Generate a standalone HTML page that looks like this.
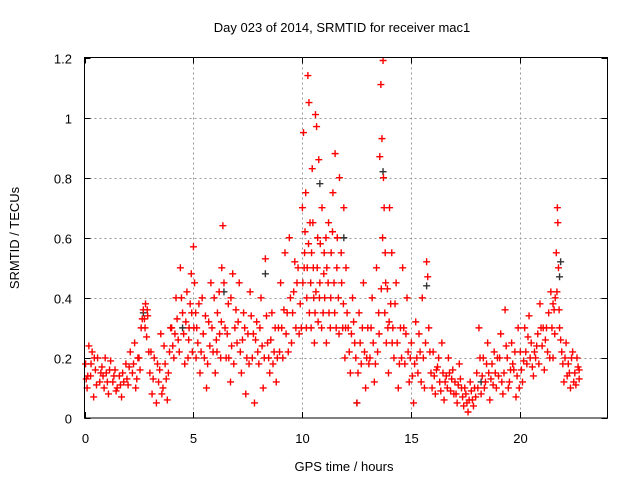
<!DOCTYPE html>
<html><head><meta charset="utf-8"><style>
body{margin:0;background:#fff;}
svg{display:block;font-family:"Liberation Sans",sans-serif;}
</style></head><body>
<svg id="chart" width="640" height="480" viewBox="0 0 640 480">
<text x="342" y="32" font-size="13" text-anchor="middle">Day 023 of 2014, SRMTID for receiver mac1</text>
<text x="344" y="471" font-size="13" text-anchor="middle">GPS time / hours</text>
<text x="0" y="0" font-size="13" text-anchor="middle" transform="translate(19,238) rotate(-90)">SRMTID / TECUs</text>
<g id="grid"></g>
<g id="ticks"></g>
<g id="points"></g>
<rect x="84.5" y="57.5" width="523" height="360.5" fill="none" stroke="#000" stroke-width="1"/>
</svg>
<script>
const xTicks=[0,5,10,15,20];
const yTicks=[0,0.2,0.4,0.6,0.8,1,1.2];
const yTickLabels=["0","0.2","0.4","0.6","0.8","1","1.2"];
const obs=[[0.05,0.18],[0.12,0.1],[0.2,0.24],[0.28,0.14],[0.35,0.22],[0.42,0.07],[0.5,0.16],[0.6,0.2],[0.7,0.12],[0.8,0.17],[0.9,0.1],
[1.0,0.15],[1.1,0.08],[1.2,0.19],[1.3,0.12],[1.4,0.16],[1.5,0.1],[1.6,0.14],[1.7,0.07],[1.8,0.12],[1.9,0.18],
[2.0,0.11],[2.1,0.22],[2.2,0.15],[2.3,0.25],[2.4,0.13],[2.5,0.2],[2.6,0.3],[2.7,0.36],[2.75,0.33],[2.8,0.38],[2.85,0.27],[2.9,0.34],[2.95,0.22],
[3.0,0.15],[3.1,0.08],[3.2,0.2],[3.3,0.05],[3.4,0.12],[3.5,0.28],[3.6,0.1],[3.7,0.18],[3.8,0.06],[3.9,0.22],
[4.0,0.3],[4.1,0.2],[4.2,0.4],[4.3,0.26],[4.4,0.5],[4.5,0.35],[4.6,0.18],[4.7,0.42],[4.8,0.3],[4.9,0.48],[4.95,0.22],
[5.0,0.57],[5.05,0.45],[5.1,0.35],[5.2,0.25],[5.3,0.15],[5.4,0.4],[5.5,0.2],[5.6,0.1],[5.7,0.32],[5.8,0.45],[5.9,0.22],
[6.0,0.15],[6.1,0.35],[6.2,0.28],[6.3,0.5],[6.35,0.64],[6.4,0.45],[6.5,0.2],[6.6,0.38],[6.7,0.12],[6.8,0.48],[6.9,0.3],
[7.0,0.25],[7.1,0.45],[7.2,0.15],[7.3,0.35],[7.4,0.08],[7.5,0.28],[7.6,0.42],[7.7,0.2],[7.8,0.05],[7.9,0.32],
[8.0,0.18],[8.1,0.4],[8.2,0.1],[8.3,0.53],[8.4,0.25],[8.5,0.15],[8.6,0.35],[8.7,0.22],[8.8,0.12],[8.9,0.3],
[9.0,0.45],[9.1,0.2],[9.2,0.55],[9.3,0.35],[9.4,0.6],[9.5,0.25],[9.6,0.42],[9.7,0.3],[9.8,0.5],[9.9,0.38],
[10.0,0.7],[10.05,0.95],[10.1,0.55],[10.15,0.75],[10.2,0.4],[10.25,1.14],[10.3,1.05],[10.35,0.65],[10.4,0.3],[10.45,0.83],[10.5,0.5],[10.55,0.25],[10.6,1.01],[10.65,0.97],[10.7,0.6],[10.75,0.86],[10.8,0.45],[10.9,0.7],[10.95,0.35],
[11.0,0.55],[11.1,0.25],[11.2,0.65],[11.3,0.4],[11.4,0.75],[11.5,0.88],[11.55,0.3],[11.6,0.6],[11.7,0.8],[11.8,0.45],[11.9,0.7],[11.95,0.2],
[12.0,0.5],[12.1,0.3],[12.2,0.15],[12.3,0.4],[12.4,0.25],[12.5,0.05],[12.6,0.35],[12.7,0.18],[12.8,0.45],[12.9,0.1],
[13.0,0.3],[13.1,0.2],[13.2,0.4],[13.3,0.12],[13.4,0.5],[13.5,0.35],[13.55,0.87],[13.6,1.11],[13.65,0.93],[13.7,1.19],[13.72,0.8],[13.75,0.7],[13.8,0.55],[13.85,0.25],[13.9,0.43],[13.95,0.15],
[14.0,0.7],[14.05,0.38],[14.1,0.55],[14.2,0.2],[14.3,0.45],[14.4,0.1],[14.5,0.3],[14.6,0.5],[14.7,0.18],[14.8,0.4],[14.9,0.12],
[15.0,0.25],[15.1,0.05],[15.2,0.32],[15.3,0.15],[15.4,0.22],[15.5,0.4],[15.6,0.1],[15.7,0.52],[15.75,0.47],[15.8,0.3],[15.9,0.15],
[16.0,0.22],[16.1,0.08],[16.2,0.17],[16.3,0.12],[16.4,0.25],[16.5,0.06],[16.6,0.14],[16.7,0.2],[16.8,0.09],[16.9,0.16],
[17.0,0.12],[17.1,0.05],[17.2,0.18],[17.3,0.1],[17.4,0.04],[17.5,0.08],[17.6,0.02],[17.7,0.12],[17.8,0.06],[17.9,0.1],
[18.0,0.15],[18.1,0.3],[18.2,0.08],[18.3,0.2],[18.4,0.12],[18.5,0.25],[18.6,0.06],[18.7,0.18],[18.8,0.22],[18.9,0.1],
[19.0,0.14],[19.1,0.28],[19.2,0.08],[19.3,0.36],[19.4,0.2],[19.5,0.12],[19.6,0.25],[19.7,0.16],[19.8,0.07],[19.9,0.3],
[20.0,0.22],[20.1,0.12],[20.2,0.3],[20.3,0.18],[20.4,0.34],[20.5,0.25],[20.6,0.14],[20.7,0.2],[20.8,0.28],[20.9,0.38],
[21.0,0.24],[21.1,0.16],[21.2,0.3],[21.3,0.35],[21.4,0.42],[21.5,0.2],[21.6,0.4],[21.65,0.55],[21.7,0.7],[21.72,0.65],[21.75,0.5],[21.8,0.3],[21.9,0.22],
[22.0,0.12],[22.1,0.25],[22.2,0.18],[22.3,0.1],[22.4,0.22],[22.5,0.15],[22.6,0.2],[22.7,0.13]];
const obs2=[[0.15,0.14],[0.45,0.2],[0.75,0.15],[1.05,0.12],[1.35,0.14],[1.65,0.11],[1.95,0.13],[2.25,0.18],[2.55,0.16],[2.65,0.33],[3.05,0.22],[3.45,0.16],[3.75,0.13],[4.05,0.24],[4.25,0.33],[4.55,0.28],[4.75,0.2],[4.85,0.38],[5.15,0.3],[5.35,0.22],[5.65,0.18],[5.85,0.3],[6.05,0.26],[6.25,0.2],[6.55,0.28],[6.75,0.24],[6.95,0.36],[7.15,0.22],[7.35,0.3],[7.55,0.18],[7.85,0.26],[8.05,0.3],[8.25,0.2],[8.55,0.26],[8.85,0.2],[9.05,0.3],[9.25,0.28],[9.45,0.4],[9.65,0.52],[9.85,0.28],[10.02,0.45],[10.12,0.62],[10.22,0.5],[10.32,0.35],[10.42,0.55],[10.52,0.4],[10.62,0.42],[10.72,0.32],[10.82,0.58],[11.02,0.4],[11.12,0.5],[11.22,0.35],[11.32,0.55],[11.45,0.45],[11.65,0.4],[11.85,0.3],[12.05,0.35],[12.25,0.28],[12.45,0.2],[12.65,0.25],[12.85,0.22],[13.05,0.18],[13.25,0.25],[13.45,0.22],[13.62,0.43],[13.78,0.35],[13.92,0.3],[14.15,0.3],[14.35,0.25],[14.55,0.2],[14.75,0.28],[14.95,0.2],[15.15,0.18],[15.35,0.28],[15.55,0.2],[15.85,0.22],[16.05,0.14],[16.25,0.2],[16.45,0.15],[16.65,0.1],[16.85,0.13],[17.05,0.08],[17.25,0.13],[17.45,0.1],[17.65,0.06],[17.85,0.04],[18.05,0.1],[18.25,0.14],[18.45,0.18],[18.65,0.13],[18.85,0.15],[19.05,0.2],[19.25,0.15],[19.45,0.1],[19.65,0.18],[19.85,0.14],[20.05,0.16],[20.25,0.22],[20.45,0.2],[20.65,0.22],[20.85,0.18],[21.05,0.3],[21.25,0.22],[21.45,0.3],[21.55,0.36],[21.85,0.26],[22.05,0.2],[22.25,0.15],[22.45,0.12],[22.65,0.17]];
const obs3=[[0.08,0.13],[0.3,0.18],[0.55,0.11],[0.85,0.14],[0.95,0.2],[1.15,0.16],[1.45,0.09],[1.75,0.15],[2.05,0.17],[2.35,0.1],[2.45,0.2],[2.78,0.3],[2.88,0.36],[3.15,0.13],[3.35,0.18],[3.55,0.08],[3.65,0.24],[3.85,0.15],[3.95,0.3],[4.15,0.28],[4.35,0.22],[4.45,0.4],[4.65,0.32],[4.78,0.26],[4.92,0.35],[5.02,0.3],[5.12,0.2],[5.25,0.38],[5.45,0.28],[5.55,0.34],[5.75,0.24],[5.95,0.4],[6.08,0.22],[6.18,0.42],[6.28,0.32],[6.45,0.3],[6.62,0.2],[6.72,0.4],[6.85,0.18],[7.05,0.32],[7.25,0.26],[7.45,0.2],[7.65,0.34],[7.75,0.28],[7.95,0.22],[8.15,0.24],[8.35,0.34],[8.45,0.2],[8.65,0.18],[8.75,0.3],[8.95,0.22],[9.15,0.36],[9.35,0.22],[9.55,0.35],[9.75,0.45],[9.95,0.3],[10.08,0.5],[10.18,0.3],[10.28,0.58],[10.38,0.45],[10.48,0.65],[10.58,0.35],[10.68,0.5],[10.78,0.4],[10.88,0.3],[10.98,0.48],[11.08,0.6],[11.18,0.45],[11.28,0.3],[11.38,0.62],[11.48,0.35],[11.58,0.5],[11.68,0.28],[11.78,0.55],[11.88,0.38],[11.98,0.3],[12.15,0.22],[12.35,0.32],[12.55,0.15],[12.75,0.3],[12.95,0.2],[13.15,0.3],[13.35,0.18],[13.52,0.28],[13.68,0.6],[13.82,0.45],[13.98,0.32],[14.12,0.25],[14.25,0.38],[14.45,0.18],[14.65,0.3],[14.85,0.22],[15.05,0.14],[15.25,0.2],[15.45,0.12],[15.65,0.25],[15.95,0.1],[16.15,0.16],[16.35,0.09],[16.55,0.12],[16.75,0.15],[16.95,0.08],[17.15,0.11],[17.35,0.07],[17.55,0.05],[17.75,0.09],[17.95,0.07],[18.15,0.2],[18.35,0.1],[18.55,0.15],[18.75,0.11],[18.95,0.2],[19.15,0.12],[19.35,0.24],[19.55,0.16],[19.75,0.22],[19.95,0.1],[20.15,0.19],[20.35,0.27],[20.55,0.17],[20.75,0.24],[20.95,0.3],[21.15,0.26],[21.35,0.2],[21.5,0.38],[21.58,0.28],[21.68,0.42],[21.78,0.36],[21.95,0.18],[22.15,0.14],[22.35,0.2],[22.55,0.11],[22.7,0.16]];
const obsDark=[[2.7,0.35],[4.5,0.3],[6.4,0.42],[8.3,0.48],[10.8,0.78],[11.9,0.6],[12.5,0.05],[13.7,0.82],[15.7,0.44],[18.2,0.12],[21.8,0.47],[21.85,0.52]];
const X0=84.5,X1=607.5,Y0=418,Y1=57.5,XMAX=24,YMAX=1.2;
const sx=t=>X0+(t/XMAX)*(X1-X0);
const sy=v=>Y0-(v/YMAX)*(Y0-Y1);
const NS="http://www.w3.org/2000/svg";
const grid=document.getElementById('grid'),ticks=document.getElementById('ticks'),pts=document.getElementById('points');
function mk(tag,attrs,parent){const e=document.createElementNS(NS,tag);for(const k in attrs)e.setAttribute(k,attrs[k]);parent.appendChild(e);return e;}
xTicks.forEach(t=>{
  const x=Math.round(sx(t))+0.5;
  if(t>0){const g=mk('line',{x1:x,x2:x,y1:Y1,y2:Y0,stroke:'#999','stroke-dasharray':'2,3'},grid);
  
  }
  mk('line',{x1:x,x2:x,y1:Y0,y2:Y0-6,stroke:'#000'},ticks);
  mk('line',{x1:x,x2:x,y1:Y1,y2:Y1+6,stroke:'#000'},ticks);
  const l=mk('text',{x:x,y:443,'font-size':13,'text-anchor':'middle'},ticks);l.textContent=t;
  
  
});
yTicks.forEach((v,i)=>{
  const y=Math.round(sy(v))+0.5;
  if(v>0&&v<YMAX){const g=mk('line',{x1:X0,x2:X1,y1:y,y2:y,stroke:'#999','stroke-dasharray':'2,3'},grid);
  
  }
  mk('line',{x1:X0,x2:X0+6,y1:y,y2:y,stroke:'#000'},ticks);
  mk('line',{x1:X1,x2:X1-6,y1:y,y2:y,stroke:'#000'},ticks);
  const l=mk('text',{x:72,y:y+5,'font-size':13,'text-anchor':'end'},ticks);l.textContent=yTickLabels[i];
  
  
});
function plus(p,color){
  const x=sx(p[0]),y=sy(p[1]);
  const e=mk('path',{d:`M${x-3.5},${y}H${x+3.5}M${x},${y-3.5}V${y+3.5}`,stroke:color,'stroke-width':1.4,fill:'none'},pts);
  
  
}
obsDark.forEach(p=>plus(p,'#333'));
obs3.forEach(p=>plus(p,'#f00'));
obs2.forEach(p=>plus(p,'#f00'));
obs.forEach(p=>plus(p,'#f00'));
</script>
</body></html>
